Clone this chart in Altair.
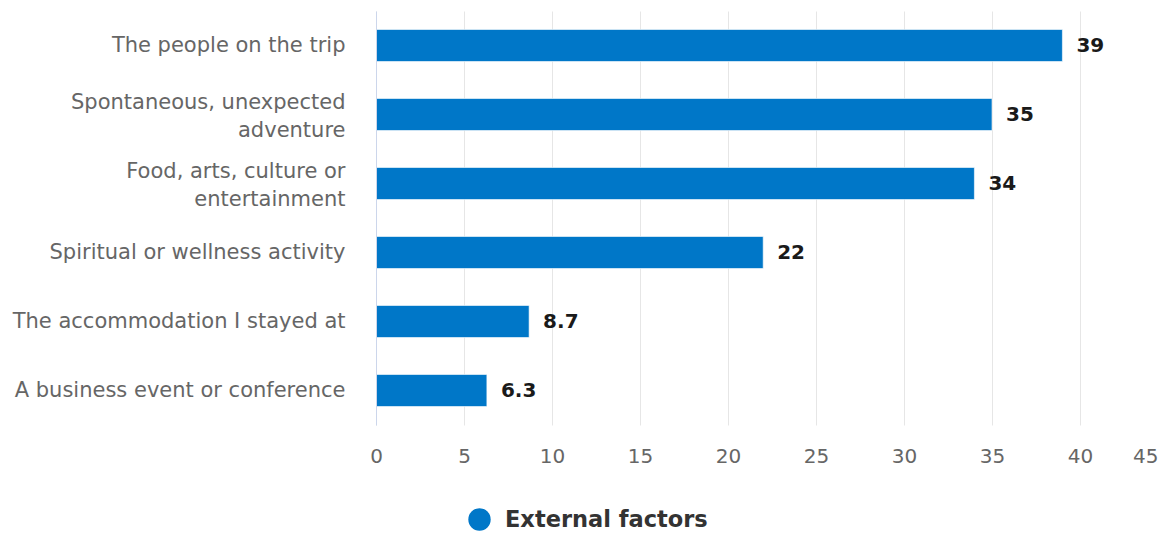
import altair as alt
import pandas as pd

categories = [
    "The people on the trip",
    "Spontaneous, unexpected\nadventure",
    "Food, arts, culture or\nentertainment",
    "Spiritual or wellness activity",
    "The accommodation I stayed at",
    "A business event or conference",
]
values = [39, 35, 34, 22, 8.7, 6.3]
series_name = "External factors"
x_ticks = [0, 5, 10, 15, 20, 25, 30, 35, 40, 45]

df = pd.DataFrame({"category": categories, "value": values, "series": [series_name] * len(values)})

BLUE = "#0077c8"
FONT = "DejaVu Sans"

x_scale = alt.Scale(domain=[0, 45], range=[0, 792], nice=False)

y_enc = alt.Y(
    "category:N",
    sort=categories,
    title=None,
    scale=alt.Scale(paddingInner=0.536, paddingOuter=0.268),
    axis=alt.Axis(
        labelExpr="split(datum.label, '\\n')",
        labelFont=FONT,
        labelFontSize=21,
        labelColor="#666666",
        labelPadding=31,
        labelLimit=0,
        labelLineHeight=27.5,
        labelOffset={"condition": {"test": "indexof(datum.label, '\\n') >= 0", "value": -11.5}, "value": 0.5},
        ticks=False,
        domainColor="#ccd6eb",
        domainWidth=1,
        grid=False,
        zindex=1,
    ),
)

x_enc = alt.X(
    "value:Q",
    title=None,
    scale=x_scale,
    axis=alt.Axis(
        values=x_ticks,
        grid=True,
        gridColor="#e6e6e6",
        domain=False,
        ticks=False,
        labelFont=FONT,
        labelFontSize=20,
        labelColor="#666666",
        labelPadding=21,
        labelAlign={"condition": {"test": "datum.value == 45", "value": "right"}, "value": "center"},
        labelOffset={"condition": {"test": "datum.value == 45", "value": -10}, "value": 0},
    ),
)

bars = alt.Chart(df).mark_bar(stroke="white", strokeWidth=0.6).encode(
    x=x_enc,
    y=y_enc,
    color=alt.Color(
        "series:N",
        scale=alt.Scale(range=[BLUE]),
        legend=alt.Legend(
            title=None,
            orient="none",
            legendX=92,
            legendY=497,
            symbolType="circle",
            symbolSize=500,
            symbolStrokeWidth=0,
            labelFont=FONT,
            labelFontSize=22.5,
            labelFontWeight="bold",
            labelColor="#333333",
            labelOffset=14,
            labelLimit=0,
            padding=0,
        ),
    ),
)

labels = alt.Chart(df).mark_text(
    align="left", baseline="middle", dx=14, font=FONT, fontSize=20, fontWeight="bold", color="#1a1a1a"
).encode(
    x=alt.X("value:Q", scale=x_scale),
    y=alt.Y("category:N", sort=categories),
    text=alt.Text("value:Q"),
)

chart = (
    alt.layer(bars, labels)
    .properties(
        width=782,
        height=414,
        autosize=alt.AutoSizeParams(type="none"),
        padding={"left": 368, "top": 3, "right": 0, "bottom": 109},
    )
    .configure_view(stroke=None)
)

chart.save("out.html", embed_options={"renderer": "svg", "actions": False})
